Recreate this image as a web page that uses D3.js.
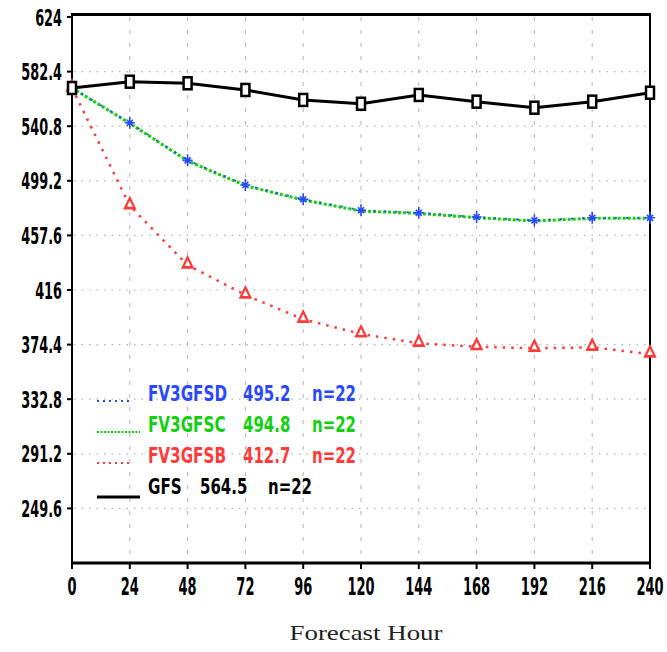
<!DOCTYPE html>
<html>
<head>
<meta charset="utf-8">
<script src="https://cdn.jsdelivr.net/npm/d3@7"></script>
<style>
  html, body { margin: 0; padding: 0; background: #fff; }
  svg { display: block; }
</style>
</head>
<body>
<div id="chart"></div>
<script>

// Forecast hours on the x axis
const hours = [0, 24, 48, 72, 96, 120, 144, 168, 192, 216, 240];

// Y axis tick labels (as printed)
const y_tick_labels = ['624', '582.4', '540.8', '499.2', '457.6', '416', '374.4', '332.8', '291.2', '249.6'];

// Series values, one per forecast hour
const gfs_values      = [569.9, 574.7, 573.5, 568.4, 560.8, 557.9, 564.6, 559.5, 554.9, 559.5, 566.3];
const fv3gfsd_values  = [569.9, 543.4, 514.8, 496.0, 485.1, 476.8, 474.8, 471.6, 469.0, 471.0, 471.0];
const fv3gfsc_values  = [569.9, 543.0, 514.3, 495.5, 484.6, 476.2, 474.4, 471.1, 468.6, 470.6, 470.6];
const fv3gfsb_values  = [569.9, 480.2, 435.0, 412.2, 393.7, 382.5, 375.4, 372.8, 371.6, 372.3, 367.2];

// Legend entries
const legend_names  = ['FV3GFSD', 'FV3GFSC', 'FV3GFSB', 'GFS'];
const legend_means  = ['495.2', '494.8', '412.7', '564.5'];
const legend_counts = ['n=22', 'n=22', 'n=22', 'n=22'];


// Constants for the viz
const C = {
  width: 667,
  height: 652,
  margin: {left: 72, right: 17, top: 17, bottom: 89},
  y_domain: [208, 624],
  x_domain: [0, 240],
  grid_color: '#b4b4b4',
  blue: '#2a48ff',
  green: '#10d010',
  red: '#ff3a3a',
  font: '"DejaVu Sans", sans-serif',
};

const svg = d3.select('#chart').append('svg')
  .attr('width', C.width)
  .attr('height', C.height);

const X = d3.scaleLinear()
  .domain(C.x_domain)
  .range([C.margin.left, C.width - C.margin.right]);

const Y = d3.scaleLinear()
  .domain(C.y_domain)
  .range([C.height - C.margin.bottom, C.margin.top]);

const x0 = X.range()[0], x1 = X.range()[1];
const y0 = Y.range()[0], y1 = Y.range()[1];

// The original font is a tall, narrow bold face. Squeeze a normal one to match.
function squeezed_text(parent, {x, y, text, size, sx, anchor = 'start', fill = '#000', weight = 'bold', family = C.font}){
  return parent.append('text')
    .attr('transform', `translate(${x},${y}) scale(${sx},1)`)
    .attr('text-anchor', anchor)
    .attr('font-family', family)
    .attr('font-weight', weight)
    .attr('font-size', size)
    .attr('fill', fill)
    .text(text);
}

//------------------------------------------------------------
// Grid
//------------------------------------------------------------
const grid = svg.append('g');

grid.selectAll('line.hgrid')
  .data(y_tick_labels.slice(1))
  .enter().append('line')
  .attr('x1', x0 + 2).attr('x2', x1)
  .attr('y1', d => Y(+d)).attr('y2', d => Y(+d))
  .attr('stroke', C.grid_color)
  .attr('stroke-width', 1.2)
  .attr('stroke-dasharray', '1.5,6');

grid.selectAll('line.vgrid')
  .data(hours.slice(1, -1))
  .enter().append('line')
  .attr('x1', d => X(d)).attr('x2', d => X(d))
  .attr('y1', y1).attr('y2', y0)
  .attr('stroke', C.grid_color)
  .attr('stroke-width', 1)
  .attr('stroke-dasharray', '4,9');

//------------------------------------------------------------
// Axes / frame
//------------------------------------------------------------
const frame = svg.append('g').attr('stroke', '#000');

frame.append('line').attr('x1', x0).attr('x2', x0).attr('y1', y1 - 3).attr('y2', y0 + 1).attr('stroke-width', 2);
frame.append('line').attr('x1', x1).attr('x2', x1).attr('y1', y1 - 3).attr('y2', y0 + 1).attr('stroke-width', 2);
frame.append('line').attr('x1', x0 - 1).attr('x2', x1 + 1).attr('y1', y1 - 2.5).attr('y2', y1 - 2.5).attr('stroke-width', 3);
frame.append('line').attr('x1', x0 - 1).attr('x2', x1 + 1).attr('y1', y0).attr('y2', y0).attr('stroke-width', 3);

// y ticks + labels
y_tick_labels.forEach(label => {
  const y = Y(+label);
  frame.append('line').attr('x1', x0 - 5).attr('x2', x0).attr('y1', y).attr('y2', y).attr('stroke-width', 2);
  squeezed_text(svg, {x: 62, y: y + 8.5, text: label, size: 23, sx: 0.56, anchor: 'end'});
});

// x ticks + labels
hours.forEach(h => {
  frame.append('line').attr('x1', X(h)).attr('x2', X(h)).attr('y1', y0).attr('y2', y0 + 6).attr('stroke-width', 2);
  squeezed_text(svg, {x: X(h), y: 595, text: String(h), size: 24.5, sx: 0.53, anchor: 'middle'});
});

// x axis title
svg.append('text')
  .attr('x', 366).attr('y', 640)
  .attr('text-anchor', 'middle')
  .attr('font-family', '"Liberation Serif", "DejaVu Serif", serif')
  .attr('font-size', 21)
  .attr('textLength', 153)
  .attr('lengthAdjust', 'spacingAndGlyphs')
  .attr('fill', '#222')
  .text('Forecast Hour');

//------------------------------------------------------------
// Series
//------------------------------------------------------------
const line = d3.line().x((d, i) => X(hours[i])).y(d => Y(d));
const plot = svg.append('g');

// Red FV3GFSB: dotted line with open triangles
plot.append('path').datum(fv3gfsb_values)
  .attr('d', line).attr('fill', 'none')
  .attr('stroke', C.red).attr('stroke-width', 2.5)
  .attr('stroke-dasharray', '2.5,6');

plot.selectAll('path.tri')
  .data(fv3gfsb_values)
  .enter().append('path')
  .attr('d', d3.symbol(d3.symbolTriangle, 40))
  .attr('transform', (d, i) => `translate(${X(hours[i])},${Y(d) - 1}) scale(1,1.2)`)
  .attr('fill', '#fff').attr('stroke', C.red).attr('stroke-width', 2.2);

// Green FV3GFSC: dense dotted line
plot.append('path').datum(fv3gfsc_values)
  .attr('d', line).attr('fill', 'none')
  .attr('stroke', C.green).attr('stroke-width', 3)
  .attr('stroke-dasharray', '3,2');

// Blue FV3GFSD: sparse dots on top of green
plot.append('path').datum(fv3gfsd_values)
  .attr('d', line).attr('fill', 'none')
  .attr('stroke', C.blue).attr('stroke-width', 1.8)
  .attr('stroke-dasharray', '2,9');

plot.selectAll('path.star')
  .data(fv3gfsd_values)
  .enter().append('path')
  .attr('d', 'M0,-6V6M-5,0H5M-3,-3L3,3M-3,3L3,-3')
  .attr('transform', (d, i) => `translate(${X(hours[i])},${Y(d)})`)
  .attr('stroke', C.blue).attr('stroke-width', 1.6).attr('fill', 'none');

// Black GFS: solid line with tall open squares
plot.append('path').datum(gfs_values)
  .attr('d', line).attr('fill', 'none')
  .attr('stroke', '#000').attr('stroke-width', 3);

plot.selectAll('rect.sq')
  .data(gfs_values)
  .enter().append('rect')
  .attr('x', (d, i) => X(hours[i]) - 4)
  .attr('y', d => Y(d) - 6)
  .attr('width', 8).attr('height', 12)
  .attr('fill', '#fff').attr('stroke', '#000').attr('stroke-width', 2.5);

//------------------------------------------------------------
// Legend
//------------------------------------------------------------
const legend_colors = [C.blue, C.green, C.red, '#000'];
const legend_dash   = ['2,4', '2,1.5', '2,4', null];
const legend_line_end = [132, 140, 133, 140];
const legend = svg.append('g');

legend_names.forEach((name, i) => {
  const base = 401 + i * 31;
  const is_gfs = name === 'GFS';

  legend.append('line')
    .attr('x1', 97).attr('x2', legend_line_end[i])
    .attr('y1', is_gfs ? base + 3 : base).attr('y2', is_gfs ? base + 3 : base)
    .attr('stroke', legend_colors[i])
    .attr('stroke-width', is_gfs ? 3 : 2)
    .attr('stroke-dasharray', legend_dash[i]);

  squeezed_text(legend, {x: 148, y: base, text: name, size: 22, sx: 0.69, fill: legend_colors[i]});
  squeezed_text(legend, {x: is_gfs ? 200 : 243, y: base, text: legend_means[i], size: 22, sx: 0.68, fill: legend_colors[i]});
  squeezed_text(legend, {x: is_gfs ? 268 : 312, y: base, text: legend_counts[i], size: 22, sx: 0.68, fill: legend_colors[i]});
});

</script>
</body>
</html>
